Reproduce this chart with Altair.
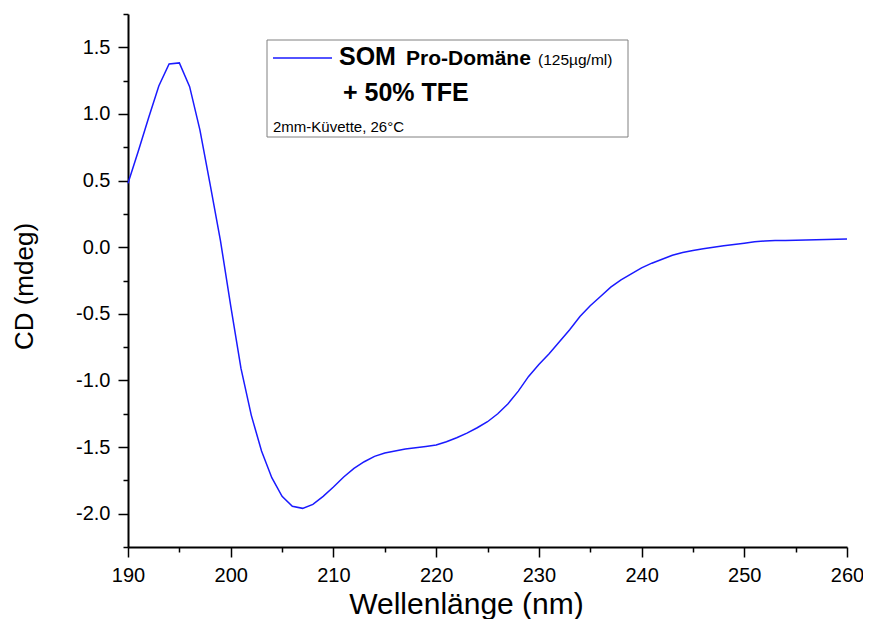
import altair as alt
import pandas as pd

# Wavelength (nm) and CD signal (mdeg)
wavelength = list(range(190, 261))
cd_mdeg = [
    0.48, 0.72, 0.97, 1.21, 1.375, 1.383, 1.205, 0.88, 0.47, 0.05,
    -0.44, -0.91, -1.26, -1.53, -1.73, -1.87, -1.945, -1.96, -1.93, -1.87,
    -1.80, -1.725, -1.66, -1.61, -1.57, -1.545, -1.53, -1.515, -1.505, -1.495,
    -1.485, -1.46, -1.43, -1.395, -1.355, -1.31, -1.25, -1.175, -1.08, -0.97,
    -0.88, -0.80, -0.71, -0.62, -0.52, -0.44, -0.37, -0.30, -0.245, -0.20,
    -0.155, -0.12, -0.09, -0.06, -0.04, -0.025, -0.012, 0.0, 0.01, 0.02,
    0.03, 0.04, 0.047, 0.05, 0.051, 0.052, 0.054, 0.056, 0.058, 0.06,
    0.062,
]

x_ticks = [190, 195, 200, 205, 210, 215, 220, 225, 230, 235, 240, 245, 250, 255, 260]
y_ticks = [-2.25, -2.0, -1.75, -1.5, -1.25, -1.0, -0.75, -0.5, -0.25, 0.0,
           0.25, 0.5, 0.75, 1.0, 1.25, 1.5, 1.75]

legend_title_1 = "SOM"
legend_title_2 = "Pro-Domäne"
legend_conc = "(125µg/ml)"
legend_line2 = "+ 50% TFE"
legend_note = "2mm-Küvette, 26°C"

df = pd.DataFrame({"nm": wavelength, "cd": cd_mdeg})

FONT = "Liberation Sans"
W, H = 719, 533

x_enc = alt.X(
    "nm:Q",
    scale=alt.Scale(domain=[190, 260], nice=False, zero=False),
    axis=alt.Axis(
        title="Wellenlänge (nm)",
        values=x_ticks,
        labelExpr="datum.value % 10 === 0 ? datum.label : ''",
        tickSize={"condition": {"test": "datum.value % 10 === 0", "value": 10}, "value": 5},
        labelPadding=8,
        labelFlush=False,
        labelOverlap=False,
        labelFontSize=20,
        labelFont=FONT,
        labelColor="black",
        titleFont=FONT,
        titleFontSize=30,
        titleFontWeight="normal",
        titleColor="black",
        titleX=338,
        titleY=66,
        titleBaseline="alphabetic",
        titleAlign="center",
        grid=False,
        domainColor="black",
        domainWidth=2,
        tickColor="black",
        tickWidth=1.5,
    ),
)

y_enc = alt.Y(
    "cd:Q",
    scale=alt.Scale(domain=[-2.25, 1.75], nice=False, zero=False),
    axis=alt.Axis(
        title="CD (mdeg)",
        values=y_ticks,
        labelExpr="datum.value % 0.5 === 0 ? (datum.value < 0 ? '-' : '') + format(abs(datum.value), '.1f') : ''",
        tickSize={"condition": {"test": "datum.value % 0.5 === 0", "value": 10}, "value": 5},
        labelPadding=8,
        labelOverlap=False,
        labelFontSize=20,
        labelFont=FONT,
        labelColor="black",
        titleFont=FONT,
        titleFontSize=26,
        titleFontWeight="normal",
        titleColor="black",
        titleX=-104,
        titleY=272,
        titleAngle=270,
        titleBaseline="middle",
        titleAlign="center",
        grid=False,
        domainColor="black",
        domainWidth=2,
        tickColor="black",
        tickWidth=1.5,
    ),
)

line = alt.Chart(df).mark_line(color="#1a1aff", strokeWidth=1.5).encode(x=x_enc, y=y_enc)

box = alt.Chart(pd.DataFrame({"k": [0]})).mark_rect(
    fill="white", stroke="#808080", strokeWidth=1
).encode(x=alt.value(139), x2=alt.value(500), y=alt.value(26), y2=alt.value(123))

leg_line = alt.Chart(pd.DataFrame({"k": [0]})).mark_rule(
    color="#1a1aff", strokeWidth=1.5
).encode(x=alt.value(145), x2=alt.value(204), y=alt.value(44))


def label(text, x, y, size, weight):
    return alt.Chart(pd.DataFrame({"t": [text]})).mark_text(
        align="left", baseline="alphabetic", font=FONT, fontSize=size,
        fontWeight=weight, color="black"
    ).encode(text="t:N", x=alt.value(x), y=alt.value(y))


texts = (
    label(legend_title_1, 211, 51, 25, "bold")
    + label(legend_title_2, 278, 51, 21, "bold")
    + label(legend_conc, 410, 51, 15.5, "normal")
    + label(legend_line2, 215, 87, 25, "bold")
    + label(legend_note, 145, 118, 15, "normal")
)

chart = (
    alt.layer(line, box, leg_line, texts)
    .properties(
        width=W,
        height=H,
        autosize=alt.AutoSizeParams(type="none"),
        padding={"left": 120, "top": 6, "right": 16, "bottom": 72},
        background="white",
    )
    .configure_view(stroke=None)
)

chart.save("out.html", embed_options={"renderer": "svg", "actions": False})
